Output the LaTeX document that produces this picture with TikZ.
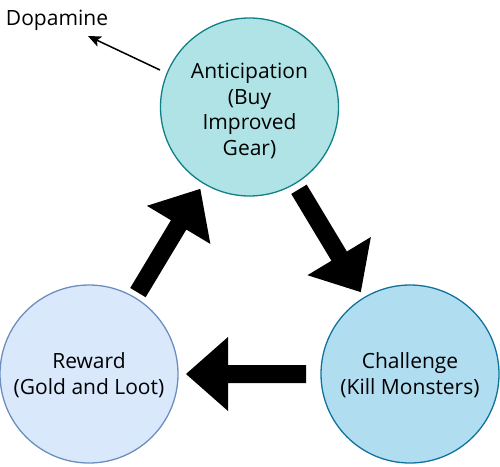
\documentclass[tikz,border=0pt]{standalone}
\usepackage{fontspec}
\setmainfont{Open Sans}
\usetikzlibrary{calc,arrows.meta}
\definecolor{antfill}{HTML}{B0E3E6}
\definecolor{antline}{HTML}{0E8088}
\definecolor{chalfill}{HTML}{B1DDF0}
\definecolor{challine}{HTML}{10739E}
\definecolor{rewfill}{HTML}{DAE8FC}
\definecolor{rewline}{HTML}{6C8EBF}
\tikzset{
  stage/.style={circle, draw, line width=1.3pt, minimum size=178pt, inner sep=0pt,
    align=center, font=\fontsize{21}{25.5}\selectfont},
  dopatext/.style={font=\fontsize{21}{25.5}\selectfont, anchor=base, inner sep=0pt},
  thinarrow/.style={line width=1.5pt, -{Stealth[length=13pt,width=11pt,inset=3pt]}},
}
\newcommand\blockarrow[3]{%
  \coordinate (#3) at ($(#2)!42pt!(#1)$);
  \fill[black] ($(#1)!9pt!90:(#2)$) -- ($(#3)!9pt!90:(#2)$) -- ($(#3)!37pt!90:(#2)$)
    -- (#2) -- ($(#3)!37pt!-90:(#2)$) -- ($(#3)!9pt!-90:(#2)$) -- ($(#1)!9pt!-90:(#2)$) -- cycle;}
\begin{document}
\begin{tikzpicture}[x=1pt,y=-1pt]
\useasboundingbox (0,0) rectangle (500,466);
\node[stage, fill=antfill, draw=antline] (top) at (249.5,107) {\rule{0pt}{23.5pt}Anticipation\\(Buy\\Improved\\Gear)};
\node[stage, fill=rewfill, draw=rewline] (rew) at (89,374) {\rule{0pt}{18pt}Reward\\(Gold and Loot)};
\node[stage, fill=chalfill, draw=challine] (chal) at (410,374) {\rule{0pt}{18pt}Challenge\\(Kill Monsters)};
\node[dopatext] (dopa) at (57,25) {Dopamine};
% big arrows
\coordinate (a1t) at ($(rew)!95pt!(top)$);
\coordinate (a1p) at ($(rew)!216pt!(top)$);
\blockarrow{a1t}{a1p}{a1h}
\coordinate (a2t) at ($(top)!96pt!(chal)$);
\coordinate (a2p) at ($(top)!216pt!(chal)$);
\blockarrow{a2t}{a2p}{a2h}
\coordinate (a3t) at ($(chal)!104pt!(rew)$);
\coordinate (a3p) at ($(chal)!224pt!(rew)$);
\blockarrow{a3t}{a3p}{a3h}
% dopamine arrow
\coordinate (ds) at (160,70);
\coordinate (de) at (88,36);
\draw[thinarrow] (ds) -- (de);
\end{tikzpicture}
\end{document}
